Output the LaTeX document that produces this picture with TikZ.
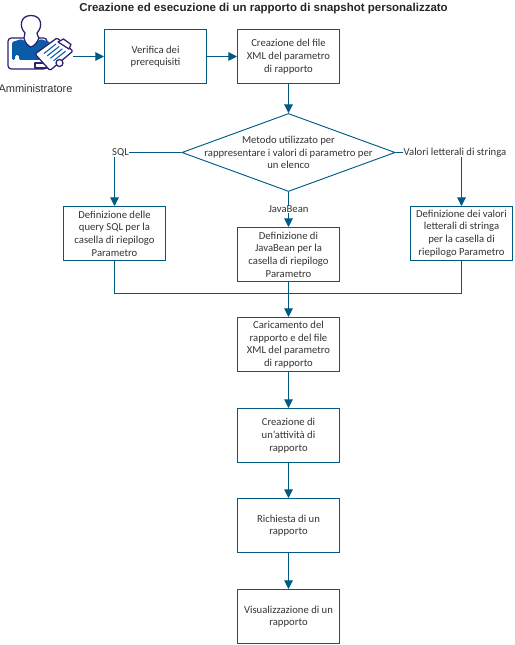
\documentclass[tikz,border=0pt]{standalone}
\usepackage{fontspec}
\setmainfont{Carlito}
\newfontfamily\arialfont{Liberation Sans}
\usetikzlibrary{arrows.meta,shapes.geometric}
\definecolor{flowblue}{HTML}{005A84}
\definecolor{flowtext}{HTML}{333333}
\definecolor{iconnavy}{HTML}{2B2272}
\definecolor{iconblue}{HTML}{0B5CA8}
\tikzset{
	stepbox/.style={draw=flowblue,line width=0.75pt,minimum width=76.5pt,minimum height=40.5pt,inner sep=0pt,align=center,text=flowtext,font=\fontsize{8}{9.5}\selectfont},
	decision/.style={draw=flowblue,line width=0.7pt,shape=diamond,aspect=2.73,minimum width=160pt,minimum height=58.5pt,inner sep=0pt},
	flowlabel/.style={inner sep=0pt,align=center,text=flowtext,font=\fontsize{8}{9.5}\selectfont},
	link/.style={draw=flowblue,line width=0.75pt},
	flow/.style={link,-{Triangle[length=6.5pt,width=6.5pt]}},
	iconline/.style={draw=iconnavy,line width=0.95pt,line join=round},
}
\begin{document}
\begin{tikzpicture}[x=0.75pt,y=-0.75pt]
	\useasboundingbox (0,0) rectangle (514,645);
	\node [inner sep=0pt,font=\arialfont\bfseries\fontsize{8.62}{11}\selectfont,text=black!85] (title) at (263.5,8.5) {Creazione ed esecuzione di un rapporto di snapshot personalizzato};
	% administrator icon
	\draw [iconline,fill=white,rounded corners=2.5pt] (8,38) -- (47,38) -- (47,69) -- (8,69) -- cycle;
	\fill [iconblue,rounded corners=1pt] (12,42) -- (22,39) -- (31,48) -- (40,39) -- (50,42) -- (50,60) -- (19,60) -- (19,55) -- (15,55) -- (15,60) -- (12,60) -- cycle;
	\draw [iconline,fill=white] (35,63) rectangle (47,68);
	\draw [iconline,fill=white] (24,38) .. controls (24,35) and (25,35) .. (25,33) .. controls (19,27) and (20,15.5) .. (31,15.5) .. controls (42,15.5) and (43,27) .. (37,33) .. controls (37,35) and (38,36) .. (39,38) .. controls (37,43) and (34,46) .. (31,47) .. controls (28,46) and (25,43) .. (24,38) -- cycle;
	\draw [iconline,fill=white,rounded corners=1pt] (35,54) -- (57,38) -- (73,51) -- (50,70.5) -- cycle;
	\draw [iconline,fill=white] (58,42) -- (63.5,39) -- (71,44.5) -- (69,49) -- cycle;
	\foreach \i in {0,1,2,3} {
		\draw [iconblue,line width=0.8pt] ({44+\i*3.2},{53.5+\i*2.4}) -- ({56+\i*3.2},{44+\i*2.4});
	}
	\draw [iconline,fill=white] (59.5,63) circle (3.5);
	% flow boxes
	\coordinate (adminout) at (73,56.5);
	\node [inner sep=0pt,font=\arialfont\fontsize{8.25}{10}\selectfont,text=flowtext] (admin) at (35.5,88.5) {Amministratore};
	\node [stepbox] (verifica) at (155.5,56.5) {Verifica dei\\prerequisiti};
	\node [stepbox] (xml) at (288.5,56.5) {Creazione del file\\XML del parametro\\di rapporto};
	\node [decision] (metodo) at (288.5,152.5) {};
	\node [flowlabel] (metodotxt) at (288.5,152.5) {Metodo utilizzato per\\rappresentare i valori di parametro per\\un elenco};
	\node [flowlabel] (sql) at (120.5,152.5) {SQL};
	\node [flowlabel] (javabean) at (288.5,209.5) {JavaBean};
	\node [flowlabel] (valori) at (455,152.5) {Valori letterali di stringa};
	\node [stepbox] (sqlbox) at (114.5,233.5) {Definizione delle\\query SQL per la\\casella di riepilogo\\Parametro};
	\node [stepbox] (javabox) at (288.5,254.5) {Definizione di\\JavaBean per la\\casella di riepilogo\\Parametro};
	\node [stepbox] (valbox) at (461.5,233.5) {Definizione dei valori\\letterali di stringa\\per la casella di\\riepilogo Parametro};
	\coordinate (merge) at (288.5,293.5);
	\node [stepbox] (carica) at (288.5,344.5) {Caricamento del\\rapporto e del file\\XML del parametro\\di rapporto};
	\node [stepbox] (attivita) at (288.5,435.5) {Creazione di\\un’attività di\\rapporto};
	\node [stepbox] (richiesta) at (288.5,525.5) {Richiesta di un\\rapporto};
	\node [stepbox] (visual) at (288.5,616.5) {Visualizzazione di un\\rapporto};
	% connectors
	\draw [flow] (adminout) -- (verifica);
	\draw [flow] (verifica) -- (xml);
	\draw [flow] (xml) -- (metodo);
	\draw [link] (metodo.west) -- (sql.east);
	\draw [flow] (sql.south -| sqlbox) -- (sqlbox);
	\draw [link] (metodo.east) -- (valori.west);
	\draw [flow] (valori.south -| valbox) -- (valbox);
	\draw [link] (metodo) -- (javabean);
	\draw [flow] (javabean) -- (javabox);
	\draw [link] (sqlbox) |- (merge);
	\draw [link] (valbox) |- (merge);
	\draw [flow] (javabox) -- (carica);
	\draw [flow] (carica) -- (attivita);
	\draw [flow] (attivita) -- (richiesta);
	\draw [flow] (richiesta) -- (visual);
\end{tikzpicture}
\end{document}
